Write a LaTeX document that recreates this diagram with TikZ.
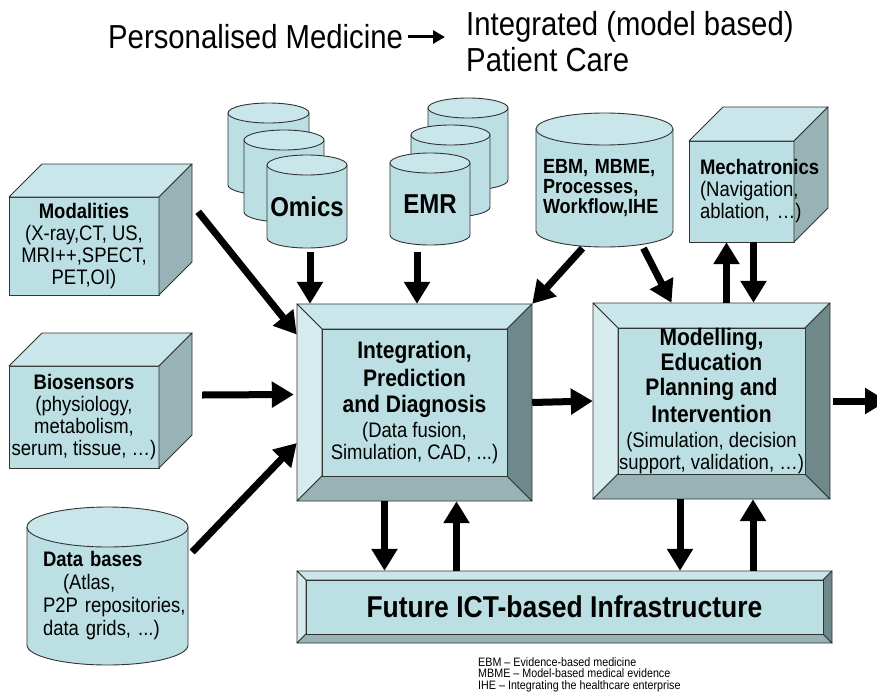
\documentclass[tikz,border=0pt]{standalone}
\usepackage{fontspec}
\setmainfont{Liberation Sans}[FakeStretch=0.88]
\usepackage{xcolor}
\usetikzlibrary{calc, arrows.meta}
\tikzset{>=latex}

\definecolor{FaceFront}{HTML}{BBDFE3}
\definecolor{FaceTop}{HTML}{C9E7EA}
\definecolor{FaceLight}{HTML}{D6ECEE}
\definecolor{FaceSide}{HTML}{98B3B6}
\definecolor{FaceDark}{HTML}{6F898B}

\newcommand{\boxtitle}[1]{{\fontsize{23.9}{26}\selectfont\bfseries #1}}

\tikzset{
  face/.style={draw=black!80, line width=0.9pt, line join=round},
  fatarrow/.style={line width=7pt, -{Triangle[length=22pt, width=25pt]}},
  thinarrow/.style={line width=3pt, -{Triangle[length=12pt, width=13pt]}},
  plaintext/.style={inner sep=0pt, align=center, font=\fontsize{21}{22}\selectfont},
  titletext/.style={inner sep=0pt, font=\fontsize{33.3}{36}\selectfont},
  pics/cube/.style n args={3}{code={
    \filldraw[face, fill=FaceFront] ({-#1/2},{-#2/2}) rectangle ({#1/2},{#2/2});
    \filldraw[face, fill=FaceTop] ({-#1/2},{-#2/2}) -- ++(#3,{-#3}) -- ++(#1,0) -- ({#1/2},{-#2/2}) -- cycle;
    \filldraw[face, fill=FaceSide] ({#1/2},{-#2/2}) -- ++(#3,{-#3}) -- ++(0,#2) -- ({#1/2},{#2/2}) -- cycle;
  }},
  pics/cyl/.style n args={3}{code={
    \filldraw[face, fill=FaceFront] (-#1,0) -- (-#1,#2) arc[start angle=180, end angle=0, x radius=#1, y radius=#3] -- (#1,0) -- cycle;
    \filldraw[face, fill=FaceTop] (0,0) ellipse[x radius=#1, y radius=#3];
  }},
  pics/bevel/.style n args={3}{code={
    \pgfmathsetmacro\bvW{#1/2}\pgfmathsetmacro\bvH{#2/2}
    \pgfmathsetmacro\bvw{#1/2-#3}\pgfmathsetmacro\bvh{#2/2-#3}
    \filldraw[face, fill=FaceTop] (-\bvW,-\bvH) -- (\bvW,-\bvH) -- (\bvw,-\bvh) -- (-\bvw,-\bvh) -- cycle;
    \filldraw[face, fill=FaceLight] (-\bvW,-\bvH) -- (-\bvw,-\bvh) -- (-\bvw,\bvh) -- (-\bvW,\bvH) -- cycle;
    \filldraw[face, fill=FaceSide] (-\bvW,\bvH) -- (-\bvw,\bvh) -- (\bvw,\bvh) -- (\bvW,\bvH) -- cycle;
    \filldraw[face, fill=FaceDark] (\bvW,-\bvH) -- (\bvW,\bvH) -- (\bvw,\bvh) -- (\bvw,-\bvh) -- cycle;
    \filldraw[face, fill=FaceFront] (-\bvw,-\bvh) rectangle (\bvw,\bvh);
  }}
}

\begin{document}
\begin{tikzpicture}[x=1pt, y=-1pt]
\path[use as bounding box, fill=white] (0,0) rectangle (877,693);

\node[titletext, anchor=west] (pm) at (108,37) {Personalised Medicine};
\node[titletext, anchor=west, align=left] (ipc) at (466,42) {Integrated (model based)\\Patient Care};
\draw[thinarrow] ([xshift=5]pm.east) -- ([xshift=-21]ipc.west |- pm.east);

\pic at (268.5,113) {cyl={40.5}{72}{10}};
\pic at (284,140) {cyl={40}{72}{10}};
\pic at (307,165) {cyl={40}{73}{10}};
\pic at (468,108) {cyl={40}{72}{10}};
\pic at (450.5,135) {cyl={39.5}{72}{10}};
\pic at (430,163) {cyl={40}{72}{10}};
\pic at (604.5,129) {cyl={68.5}{102}{16}};
\pic at (107.5,527) {cyl={80.5}{118}{20}};

\pic at (84,246) {cube={150}{98}{33}};
\pic at (84,417) {cube={150}{102}{33}};
\pic at (741.5,191.5) {cube={105}{101}{34}};

\pic at (414.5,402.5) {bevel={235}{197}{25}};
\pic at (711.5,401) {bevel={237}{196}{25}};
\pic at (564.5,607) {bevel={535}{72}{9}};

\node[plaintext, minimum width=80, minimum height=83, font=\fontsize{27.3}{28}\selectfont\bfseries] (omics) at (307,206.5) {Omics};
\node[plaintext, minimum width=80, minimum height=82, font=\fontsize{27.3}{28}\selectfont\bfseries] (emr) at (430,204) {EMR};
\node[plaintext, align=left, text width=123, inner xsep=7, minimum height=118, font=\fontsize{20.5}{20}\selectfont\bfseries] (ebm) at (604.5,188) {EBM, MBME,\\Processes,\\\mbox{Workflow,IHE}};
\node[plaintext, align=left, text width=129, inner xsep=16, minimum height=138, font=\fontsize{21}{23}\selectfont] (db) at (107.5,596) {\textbf{Data bases}\\\hspace*{20pt}(Atlas,\\\mbox{P2P repositories,}\\\mbox{data grids, ...)}};

\node[plaintext, minimum width=150, minimum height=98] (mod) at (84,246) {\textbf{Modalities}\\(X-ray,CT, US,\\MRI++,SPECT,\\PET,OI)};
\node[plaintext, minimum width=150, minimum height=102] (bio) at (84,417) {\textbf{Biosensors}\\(physiology,\\metabolism,\\serum, tissue, …)};
\node[plaintext, align=left, text width=83, inner xsep=11, minimum height=101] (mech) at (741.5,191.5) {\textbf{\mbox{Mechatronics}}\\\mbox{(Navigation,}\\\mbox{ablation, …)}};

\node[plaintext, minimum width=235, minimum height=197] (ipd) at (414.5,402.5) {\boxtitle{Integration,}\\[4pt]\boxtitle{Prediction}\\[4pt]\boxtitle{and Diagnosis}\\[3pt](Data fusion,\\Simulation, CAD, ...)};
\node[plaintext, minimum width=237, minimum height=196] (medu) at (711.5,401) {\boxtitle{Modelling,}\\[2pt]\boxtitle{Education}\\[3pt]\boxtitle{Planning and}\\[4pt]\boxtitle{Intervention}\\[3pt](Simulation, decision\\support, validation, …)};
\node[plaintext, minimum width=535, minimum height=72, font=\fontsize{30.1}{32}\selectfont\bfseries] (ict) at (564.5,607) {Future ICT-based Infrastructure};

\node[inner sep=0pt, anchor=north west, align=left, font=\fontsize{12.2}{11.5}\selectfont] (abbr) at (478,657) {EBM – Evidence-based medicine\\MBME – Model-based medical evidence\\IHE – Integrating the healthcare enterprise};

\draw[fatarrow] ([shift={(39,15)}]mod.north east) -- (ipd.150);
\draw[fatarrow] ([shift={(43,-22)}]bio.east) -- ([shift={(-3,-8)}]ipd.west);
\draw[fatarrow] ([shift={(4,-44)}]db.east) -- (ipd.199);
\draw[fatarrow] ([shift={(3,4)}]omics.south) -- ([xshift=3]omics.south |- ipd.north);
\draw[fatarrow] ([shift={(-13,7)}]emr.south) -- ([xshift=-13]emr.south |- ipd.north);
\draw[fatarrow] ([shift={(-22,1)}]ebm.south) -- (ipd.north east);
\draw[fatarrow] ([shift={(39,1)}]ebm.south) -- ([xshift=-40]medu.north);
\draw[fatarrow] ([xshift=-15]mech.south |- medu.north) -- ([xshift=-15]mech.south);
\draw[fatarrow] ([xshift=12]mech.south) -- ([xshift=12]mech.south |- medu.north);
\draw[fatarrow] (ipd.east) -- (medu.west);
\coordinate (exit) at (887,401);
\draw[fatarrow] ([xshift=3]medu.east) -- (exit);
\draw[fatarrow] ([xshift=-30]ipd.south) -- ([xshift=-30]ipd.south |- ict.north);
\draw[fatarrow] ([xshift=42]ipd.south |- ict.north) -- ([xshift=42]ipd.south);
\draw[fatarrow] ([xshift=-31.5]medu.south) -- ([xshift=-31.5]medu.south |- ict.north);
\draw[fatarrow] ([xshift=41.5]medu.south |- ict.north) -- ([xshift=41.5]medu.south);
\end{tikzpicture}
\end{document}
